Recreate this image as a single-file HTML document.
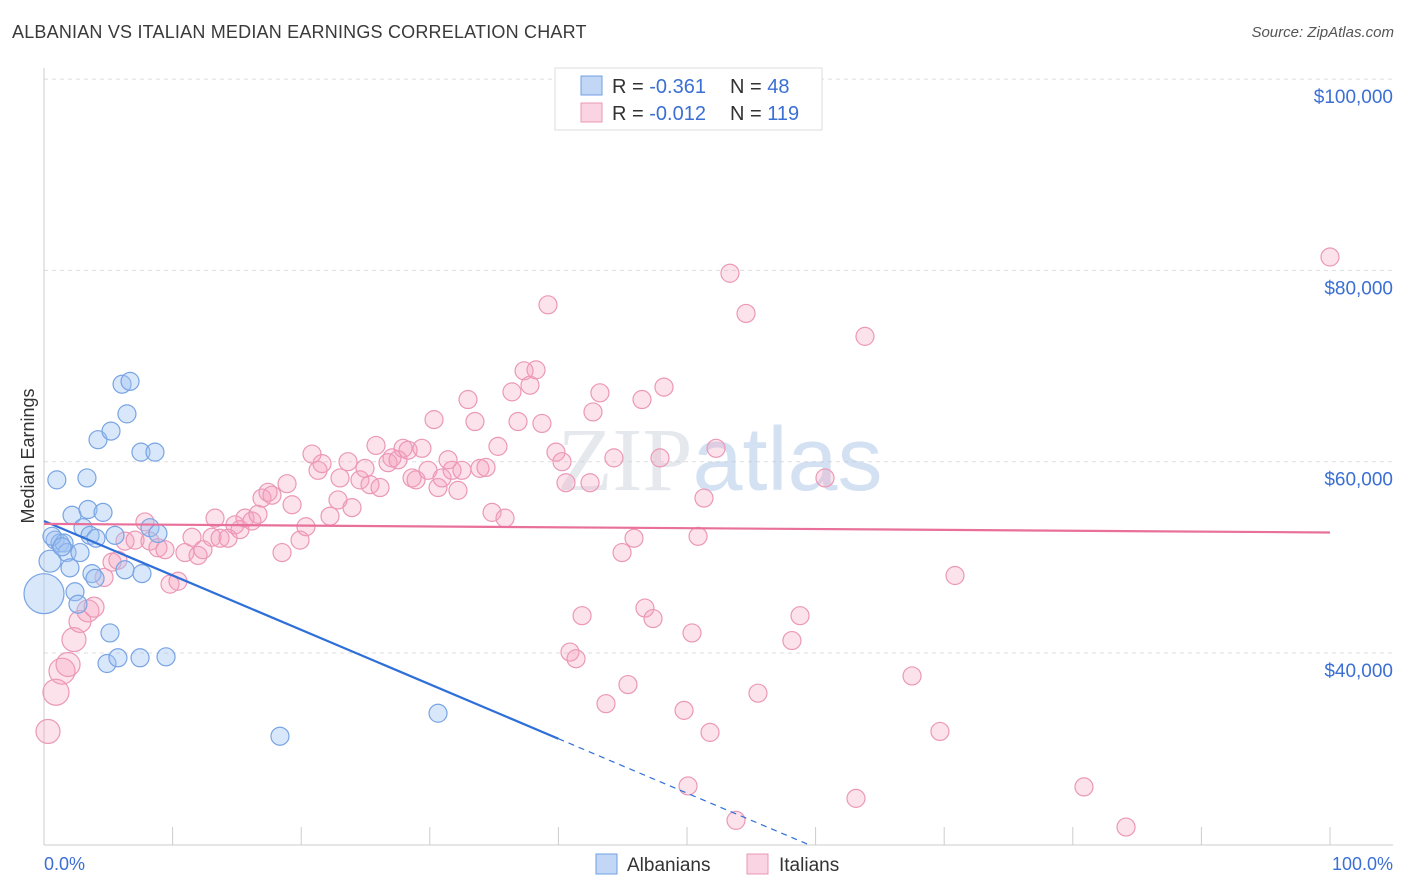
<!DOCTYPE html>
<html><head><meta charset="utf-8">
<style>
body{margin:0;background:#fff;font-family:"Liberation Sans",sans-serif;}
#wrap{position:relative;width:1406px;height:892px;overflow:hidden;}
.title{position:absolute;left:12px;top:22px;font-size:18px;color:#3a3a3a;letter-spacing:0.2px}
.source{position:absolute;right:12px;top:24px;font-size:15px;color:#555;font-style:italic}
</style></head><body>
<div id="wrap">
<div class="title">ALBANIAN VS ITALIAN MEDIAN EARNINGS CORRELATION CHART</div>
<div class="source">Source: ZipAtlas.com</div>
<svg id="chart" width="1406" height="892" style="position:absolute;left:0;top:0"></svg>
</div>
<script>
const yTicks=[40000,60000,80000,100000];
const yTickLabels=["$40,000","$60,000","$80,000","$100,000"];
const blueX=[0,0.47,1.0,0.86,1.24,1.56,1.79,2.02,2.18,2.41,2.64,2.8,3.03,3.34,3.42,3.58,3.73,3.97,4.2,4.59,4.9,5.13,5.21,5.75,5.52,6.07,6.45,6.69,6.3,7.47,7.54,7.62,8.24,8.63,8.86,9.49,18.35,30.64,0.62,1.4,4.04];
const blueY=[46.2,49.6,58.1,51.8,51.5,51.5,50.5,48.9,54.4,46.4,45.1,50.5,53.1,58.3,55.0,52.3,48.3,47.8,62.3,54.7,38.9,42.1,63.2,39.5,52.3,68.1,65.0,68.4,48.7,39.5,61.0,48.3,53.1,61.0,52.5,39.6,31.3,33.7,52.2,51.1,52.0];
const blueR=[20,11,9,9,9,9,9,9,9,9,9,9,9,9,9,9,9,9,9,9,9,9,9,9,9,9,9,9,9,9,9,9,9,9,9,9,9,9,9,9,9];
const pinkX=[0.31,0.93,1.40,1.87,2.33,2.80,3.42,3.89,4.67,5.29,5.75,6.30,7.08,7.85,8.24,8.86,9.41,9.80,10.42,10.96,11.51,11.98,12.36,13.06,13.30,13.69,14.31,14.85,15.24,15.63,16.17,16.64,16.95,17.42,17.73,18.51,18.90,19.29,19.91,20.37,20.84,21.31,21.62,22.24,22.86,23.02,23.64,23.95,24.57,24.96,25.35,25.82,26.13,26.75,27.06,27.53,27.92,28.31,28.62,28.93,29.39,29.86,30.33,30.64,30.95,31.42,31.73,32.19,32.50,32.97,33.51,33.90,34.37,34.84,35.30,35.85,36.39,36.86,37.33,37.79,38.26,38.72,39.19,39.81,40.28,40.59,40.90,41.37,41.84,42.46,42.69,43.23,43.70,44.32,44.95,45.41,45.88,46.50,46.73,47.36,48.21,47.90,49.77,50.08,50.39,50.86,51.32,51.79,52.26,53.34,53.81,54.59,55.52,58.16,58.79,60.73,63.84,67.50,69.67,70.84,80.87,84.14,100.0,63.14];
const pinkY=[31.8,35.9,38.1,38.8,41.4,43.3,44.4,44.8,47.9,49.5,49.7,51.7,51.8,53.7,51.7,51.0,50.8,47.2,47.5,50.5,52.1,50.2,50.8,52.1,54.1,52.0,52.0,53.4,52.9,54.1,53.8,54.5,56.2,56.8,56.5,50.5,57.7,55.5,51.8,53.2,60.8,59.1,59.8,54.3,56.0,58.3,60.0,55.2,58.1,59.3,57.6,61.7,57.3,59.9,60.4,60.2,61.4,61.2,58.3,58.1,61.4,59.1,64.4,57.3,58.3,60.2,59.1,57.0,59.1,66.5,64.2,59.3,59.4,54.7,61.6,54.1,67.3,64.2,69.5,68.0,69.6,64.0,76.4,61.0,60.0,57.8,40.1,39.4,43.9,57.8,65.2,67.2,34.7,60.4,50.5,36.7,52.0,66.5,44.7,43.6,67.8,60.4,34.0,26.1,42.1,52.2,56.2,31.7,61.4,79.7,22.5,75.5,35.8,41.3,43.9,58.3,73.1,37.6,31.8,48.1,26.0,21.8,81.4,24.8];
const pinkBig={0:12,1:13,2:13,3:12,4:12,5:11,6:11,7:10};
const blueLine=[53.8,-3.1];
const pinkLine=[53.5,52.6];

const svg=document.getElementById('chart');
const NS='http://www.w3.org/2000/svg';
const X0=44,X1=1330,Y40=653,PXPER20K=191.3;
const xs=p=>X0+(X1-X0)*p/100;
const ys=v=>Y40-(v-40000)*PXPER20K/20000;
function mk(t,a){const e=document.createElementNS(NS,t);for(const k in a)e.setAttribute(k,a[k]);svg.appendChild(e);return e;}

yTicks.forEach((v,i)=>{
 const g=mk('line',{x1:44,x2:1393,y1:ys(v),y2:ys(v),stroke:'#ddd','stroke-dasharray':'4,4'});
 
 
 const t=mk('text',{x:1393,y:ys(v)+24,'text-anchor':'end','font-size':19,fill:'#3b6fd4','font-family':'Liberation Sans'});
 t.textContent=yTickLabels[i];
 
 
});
let ax=mk('line',{x1:44,x2:44,y1:68,y2:845,stroke:'#ccc'});


ax=mk('line',{x1:44,x2:1393,y1:845,y2:845,stroke:'#ccc'});


for(let i=1;i<=10;i++){const tk=mk('line',{x1:xs(i*10),x2:xs(i*10),y1:827,y2:845,stroke:'#ccc'});
 
 }
let t=mk('text',{x:44,y:870,'font-size':18,fill:'#3b6fd4'});t.textContent='0.0%';


t=mk('text',{x:1393,y:870,'font-size':18,fill:'#3b6fd4','text-anchor':'end'});t.textContent='100.0%';


t=mk('text',{x:34,y:456,'font-size':18,fill:'#333','text-anchor':'middle',transform:'rotate(-90 34 456)'});t.textContent='Median Earnings';


t=mk('text',{x:720,y:490,'font-size':90,'text-anchor':'middle','font-family':'Liberation Serif',fill:'#ccd3dc','fill-opacity':0.5});
t.innerHTML='ZIP<tspan font-family="Liberation Sans" fill="#a9c4e8">atlas</tspan>';



pinkX.forEach((p,i)=>{const c=mk('circle',{cx:xs(p),cy:ys(pinkY[i]*1000),r:pinkBig[i]||9,fill:'rgba(244,160,190,0.3)',stroke:'#eb98b6','stroke-width':1.2});
 
 });
blueX.forEach((p,i)=>{const c=mk('circle',{cx:xs(p),cy:ys(blueY[i]*1000),r:blueR[i],fill:'rgba(160,195,242,0.4)',stroke:'#78a4e3','stroke-width':1.2});
 
 });

const bv=p=>(blueLine[0]+(blueLine[1]-blueLine[0])*p/100)*1000;
let l=mk('line',{x1:xs(0),y1:ys(bv(0)),x2:xs(40),y2:ys(bv(40)),stroke:'#2e6fd8','stroke-width':2.2});


l=mk('line',{x1:xs(40),y1:ys(bv(40)),x2:xs(59.6),y2:ys(bv(59.6)),stroke:'#2e6fd8','stroke-width':1.2,'stroke-dasharray':'6,5'});


l=mk('line',{x1:xs(0),y1:ys(pinkLine[0]*1000),x2:xs(100),y2:ys(pinkLine[1]*1000),stroke:'#e8709a','stroke-width':2.2});



let r=mk('rect',{x:555,y:68,width:267,height:62,fill:'#fff',stroke:'#ddd'});


r=mk('rect',{x:581,y:76,width:21,height:19,fill:'rgba(120,165,235,0.45)',stroke:'#6f9fe3'});


r=mk('rect',{x:581,y:103,width:21,height:19,fill:'rgba(244,160,190,0.45)',stroke:'#eb98b6'});


t=mk('text',{x:612,y:93,'font-size':20,fill:'#333'});t.innerHTML='R = <tspan fill="#3b6fd4">-0.361</tspan><tspan x="730">N = </tspan><tspan fill="#3b6fd4">48</tspan>';


t=mk('text',{x:612,y:120,'font-size':20,fill:'#333'});t.innerHTML='R = <tspan fill="#3b6fd4">-0.012</tspan><tspan x="730">N = </tspan><tspan fill="#3b6fd4">119</tspan>';


r=mk('rect',{x:596,y:854,width:21,height:20,fill:'rgba(120,165,235,0.45)',stroke:'#6f9fe3'});


t=mk('text',{x:627,y:871,'font-size':19,fill:'#333'});t.textContent='Albanians';


r=mk('rect',{x:747,y:854,width:21,height:20,fill:'rgba(244,160,190,0.45)',stroke:'#eb98b6'});


t=mk('text',{x:779,y:871,'font-size':19,fill:'#333'});t.textContent='Italians';


</script>
</body></html>
